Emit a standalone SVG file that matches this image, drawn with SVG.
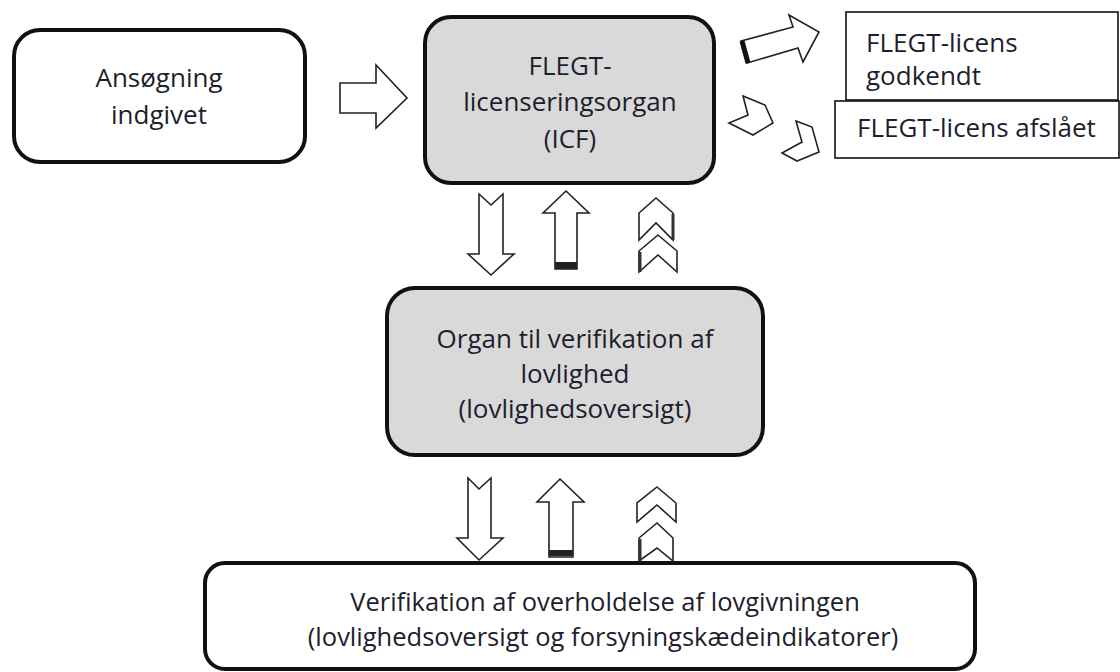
<svg xmlns="http://www.w3.org/2000/svg" width="1120" height="672" viewBox="0 0 1120 672">
<style>
.box{stroke:#111;stroke-width:4;}
.plain{fill:#fff;stroke:#111;stroke-width:1.6;}
.lbl{font-family:"Open Sans","Noto Sans","Liberation Sans",sans-serif;font-size:26px;fill:#1e1e2e;}
.sm{font-size:25.5px;}
.mid{text-anchor:middle;}
.arr{fill:#fff;stroke:#222;stroke-width:1.6;stroke-linejoin:miter;}
.band{fill:#222;}
.bevel{stroke:#333;stroke-width:3;fill:none;}
</style>
<rect width="1120" height="672" fill="#fff"/>
<g id="node-ansoegning">
<rect class="box" x="14" y="30" width="291" height="132" rx="26" fill="#fff"/>
<text class="lbl mid" x="159" y="87">Ansøgning</text>
<text class="lbl mid" x="159" y="124">indgivet</text>
</g>
<g id="node-icf">
<rect class="box" x="425" y="17" width="289" height="166" rx="26" fill="#d9d9d9"/>
<text class="lbl mid" x="570" y="75">FLEGT-</text>
<text class="lbl mid" x="570" y="111">licenseringsorgan</text>
<text class="lbl mid" x="570" y="148">(ICF)</text>
</g>
<g id="node-godkendt">
<rect class="plain" x="846" y="12" width="272" height="88"/>
<text class="lbl" x="866" y="52">FLEGT-licens</text>
<text class="lbl" x="866" y="85">godkendt</text>
</g>
<g id="node-afslaaet">
<rect class="plain" x="835" y="101" width="284" height="57"/>
<text class="lbl" x="857" y="137">FLEGT-licens afslået</text>
</g>
<g id="node-lovlighed">
<rect class="box" x="387" y="288" width="376" height="167" rx="28" fill="#d9d9d9"/>
<text class="lbl mid" x="575" y="348">Organ til verifikation af</text>
<text class="lbl mid" x="575" y="383">lovlighed</text>
<text class="lbl mid" x="575" y="418">(lovlighedsoversigt)</text>
</g>
<g id="node-verifikation">
<rect class="box" x="205" y="563" width="770" height="106" rx="20" fill="#fff"/>
<text class="lbl sm mid" x="605" y="611">Verifikation af overholdelse af lovgivningen</text>
<text class="lbl sm mid" x="603" y="646">(lovlighedsoversigt og forsyningskædeindikatorer)</text>
</g>
<g id="connectors">
<polygon class="arr" points="340,83 376,83 376,65 407,98 376,128 376,113 340,113"/>
<polygon class="arr" points="741,41 793,27 789,15 819,32 803,62 798,48 747,63"/>
<line x1="742" y1="41" x2="748" y2="63" stroke="#111" stroke-width="5"/>
<polygon class="arr" points="743,96 765,105 773,123 753,135 729,123 748,115"/>
<polygon class="arr" points="796,121 812,127 819,152 797,161 782,153 802,142"/>
<polygon class="arr" points="479,194 491,205 503,194 503,254 514,254 491,275 468,254 479,254"/>
<polygon class="arr" points="566,191 589,213 577,213 577,269 555,269 555,213 543,213"/>
<rect class="band" x="555" y="262" width="22" height="7"/>
<polygon class="arr" points="656,198 673,213 673,240 656,223 639,240 639,213"/>
<line class="bevel" x1="673" y1="214" x2="673" y2="240"/>
<polygon class="arr" points="658,235 677,251 677,272 658,255 639,272 639,251"/>
<line class="bevel" x1="640" y1="252" x2="640" y2="272"/>
<polygon class="arr" points="468,478 479,489 491,478 491,538 503,538 479,560 457,538 468,538"/>
<polygon class="arr" points="560,479 584,502 573,502 573,557 549,557 549,502 537,502"/>
<rect class="band" x="549" y="550" width="24" height="6"/>
<polygon class="arr" points="657,487 676,503 676,522 657,505 637,522 637,503"/>
<polygon class="arr" points="657,523 673,538 673,561 657,548 639,561 639,538"/>
<line class="bevel" x1="640" y1="539" x2="640" y2="561"/>
</g>
</svg>
